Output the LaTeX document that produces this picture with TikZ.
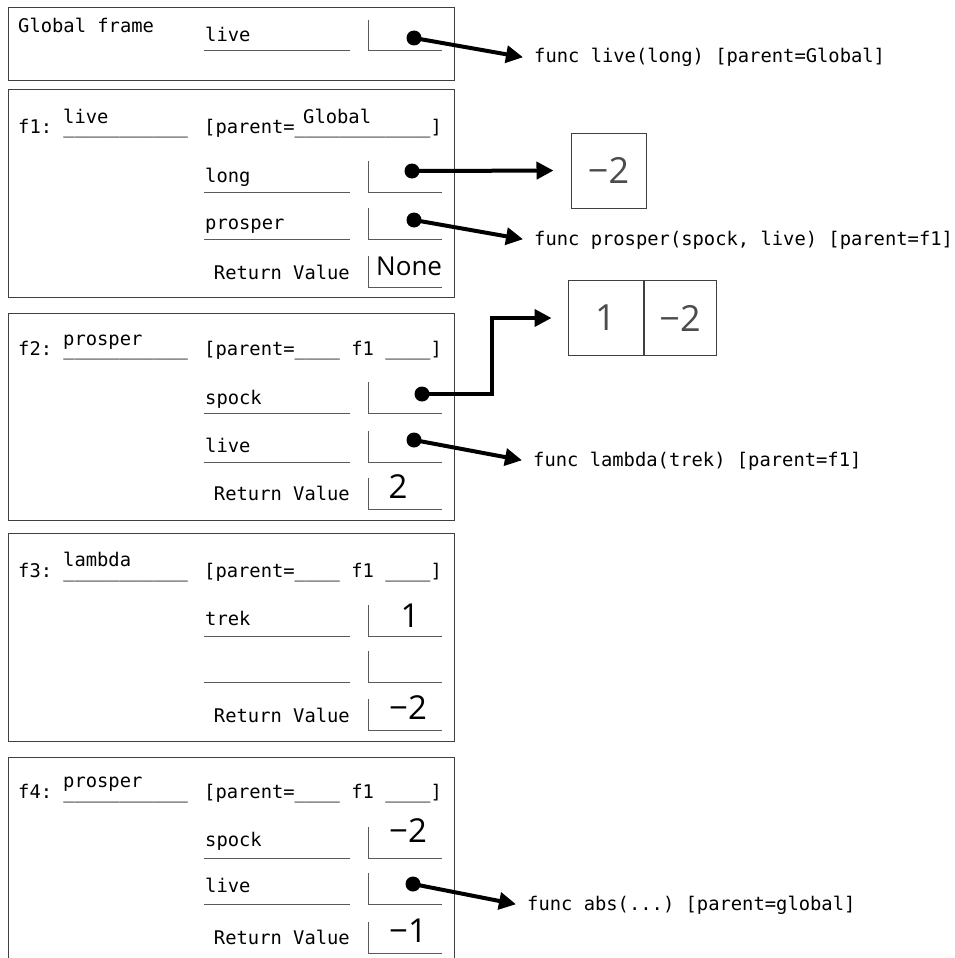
\documentclass[tikz,border=0pt]{standalone}
\usepackage{fontspec}
\newfontfamily\codefont{DejaVu Sans Mono}
\newfontfamily\valfont{Open Sans}
\usetikzlibrary{arrows.meta}
\frenchspacing

\tikzset{
  frame/.style={draw=black!75, line width=1pt},
  blank/.style={draw=black!65, line width=1pt},
  code/.style={inner sep=0pt, anchor=base west, font=\codefont\fontsize{18.8}{22}\selectfont},
  val/.style={inner sep=0pt, anchor=base, font=\valfont\fontsize{33}{38}\selectfont},
  heap/.style={draw=black!75, line width=1pt, minimum width=75pt, minimum height=75pt, inner sep=0pt,
    text=black!70, font=\valfont\fontsize{36}{40}\selectfont},
  dot/.style={circle, fill=black, inner sep=0pt, minimum size=15pt},
  func/.style={code, inner xsep=11pt, text height=14pt, text depth=2.5pt},
  ptr/.style={line width=4pt, -{Triangle[length=17pt,width=17pt]}},
}

\begin{document}
\begin{tikzpicture}[x=1pt, y=-1pt]
    \useasboundingbox (0,0) rectangle (954,958);

    % Frames
    \draw[frame] (8,8) rectangle (454,80);
    \draw[frame] (8,89) rectangle (454,297);
    \draw[frame] (8,313) rectangle (454,520);
    \draw[frame] (8,533) rectangle (454,741);
    \draw[frame] (8,958) |- (454,757) -- (454,958);

    % Name blanks and value slots
    \foreach \u in {51,192,239,413,462,636,682,858,904}
        \draw[blank] (204,\u) -- (350,\u);
    \foreach \u in {51,192,239,287,413,462,509,636,682,730,858,904,953}
        \draw[blank] (368,\u-31) |- (442,\u);

    % Global frame
    \node[code] (g-title) at (18,33) {Global frame};
    \node[code] (g-live) at (205,42) {live};
    \node[dot] (g-live-v) at (414,38) {};

    % f1
    \node[code] (f1-head) at (18,133) {f1: \_\_\_\_\_\_\_\_\_\_\_};
    \node[code] (f1-name) at (63,123) {live};
    \node[code] (f1-parent) at (204,133) {[parent=\_\_\_\_\_\_\_\_\_\_\_\_]};
    \node[code] (f1-pname) at (303,123) {Global};
    \node[code] (f1-long) at (205,182) {long};
    \node[code] (f1-prosper) at (205,229) {prosper};
    \node[code, anchor=base east] (f1-ret) at (350,279) {Return Value};
    \node[dot] (f1-long-v) at (412,171) {};
    \node[dot] (f1-prosper-v) at (414,220) {};
    \node[val, anchor=base west, font=\valfont\fontsize{26}{30}\selectfont] (f1-ret-v) at (376,275) {None};

    % f2
    \node[code] (f2-head) at (18,355) {f2: \_\_\_\_\_\_\_\_\_\_\_};
    \node[code] (f2-name) at (63,345) {prosper};
    \node[code] (f2-parent) at (204,355) {[parent=\_\_\_\_ f1 \_\_\_\_]};
    \node[code] (f2-spock) at (205,404) {spock};
    \node[code] (f2-live) at (205,452) {live};
    \node[code, anchor=base east] (f2-ret) at (350,500) {Return Value};
    \node[dot] (f2-spock-v) at (422,394) {};
    \node[dot] (f2-live-v) at (414,440) {};
    \node[val] (f2-ret-v) at (398,498) {2};

    % f3
    \node[code] (f3-head) at (18,577) {f3: \_\_\_\_\_\_\_\_\_\_\_};
    \node[code] (f3-name) at (63,566) {lambda};
    \node[code] (f3-parent) at (204,577) {[parent=\_\_\_\_ f1 \_\_\_\_]};
    \node[code] (f3-trek) at (205,625) {trek};
    \node[code, anchor=base east] (f3-ret) at (350,722) {Return Value};
    \node[val] (f3-trek-v) at (410,627) {1};
    \node[val] (f3-ret-v) at (408,719) {−2};

    % f4
    \node[code] (f4-head) at (18,798) {f4: \_\_\_\_\_\_\_\_\_\_\_};
    \node[code] (f4-name) at (63,787) {prosper};
    \node[code] (f4-parent) at (204,798) {[parent=\_\_\_\_ f1 \_\_\_\_]};
    \node[code] (f4-spock) at (205,846) {spock};
    \node[code] (f4-live) at (205,892) {live};
    \node[code, anchor=base east] (f4-ret) at (350,944) {Return Value};
    \node[val] (f4-spock-v) at (408,842) {−2};
    \node[dot] (f4-live-v) at (413,884) {};
    \node[val] (f4-ret-v) at (408,942) {−1};

    % Objects
    \node[func] (fn-live) at (523,63) {func live(long) [parent=Global]};
    \node[func] (fn-prosper) at (523,245) {func prosper(spock, live) [parent=f1]};
    \node[func] (fn-lambda) at (522,466) {func lambda(trek) [parent=f1]};
    \node[func] (fn-abs) at (516,910) {func abs(...) [parent=global]};
    \node[heap] (h-neg) at (608.5,170.5) {−2};
    \node[heap] (pair-a) at (605.5,318) {1};
    \node[heap, minimum width=72pt, anchor=west] (pair-b) at (pair-a.east) {−2};

    % Pointers
    \draw[ptr] (g-live-v.center) -- (fn-live.west);
    \draw[ptr, shorten >=17pt] (f1-long-v.center) -- (h-neg.west);
    \draw[ptr] (f1-prosper-v.center) -- (fn-prosper.west);
    \draw[ptr, shorten >=16pt] (f2-spock-v.center) -- ++(70,0) |- (pair-a.west);
    \draw[ptr] (f2-live-v.center) -- (fn-lambda.west);
    \draw[ptr] (f4-live-v.center) -- (fn-abs.west);
\end{tikzpicture}
\end{document}
